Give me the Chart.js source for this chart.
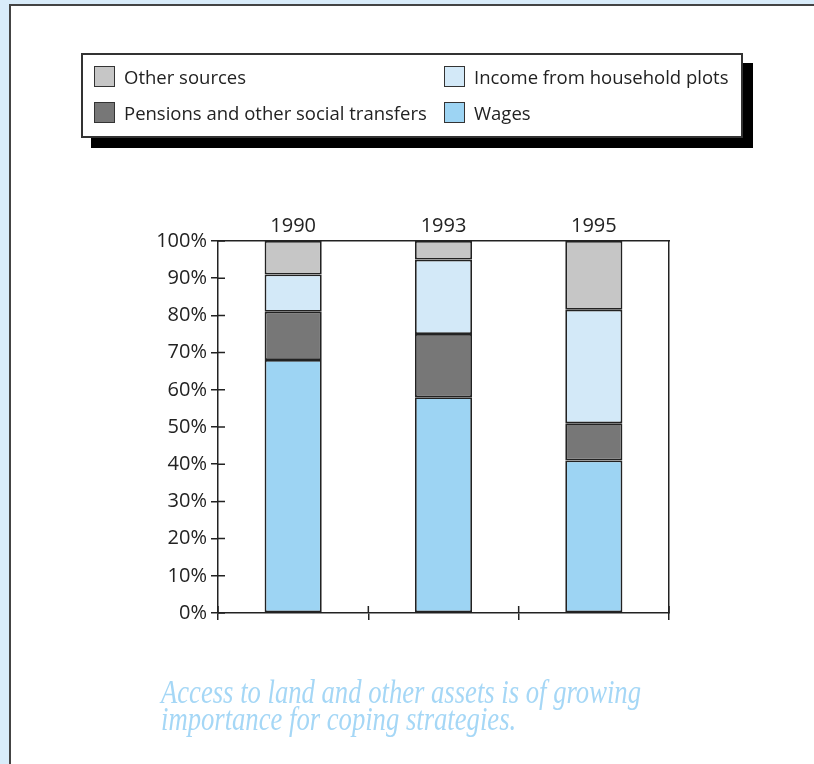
<!DOCTYPE html>
<html>
<head>
<meta charset="utf-8">
<script src="https://cdn.jsdelivr.net/npm/chart.js@4.4.1/dist/chart.umd.min.js"></script>
<style>
  html, body { margin: 0; padding: 0; }
  body { width: 814px; height: 764px; background: #d9ecfa; position: relative; overflow: hidden; font-family: 'Open Sans', sans-serif; }
  #panel { position: absolute; left: 9px; top: 4px; width: 900px; height: 900px; background: #fff; border-top: 2px solid #444; border-left: 2px solid #444; }
  #chartWrap { position: absolute; left: 0; top: 0; width: 814px; height: 764px; }
  #legend { position: absolute; left: 81px; top: 53px; width: 658px; height: 81px; background: #fff; border: 2px solid #333; box-shadow: 10px 10px 0 #000; }
  .item { position: absolute; display: flex; align-items: center; font-size: 18.5px; color: #222; white-space: nowrap; }
  .swatch { width: 19px; height: 19px; border: 1.5px solid #333; margin-right: 9px; }
  #caption { position: absolute; left: 161px; top: 679px; font-family: 'Liberation Serif', serif; font-style: italic; font-size: 33px; line-height: 27px; color: #a5d7f6; }
  #caption span { display: block; transform-origin: left center; white-space: nowrap; }
</style>
</head>
<body>
<div id="panel"></div>
<div id="chartWrap"><canvas id="incomeChart"></canvas></div>
<div id="legend"></div>
<div id="caption"><span>Access to land and other assets is of growing</span><span>importance for coping strategies.</span></div>
<script>
// data
const years = ['1990', '1993', '1995'];
const wages = [68, 58, 41];
const pensions = [13, 17, 10];
const householdPlots = [10, 20, 30.5];
const otherSources = [9, 5, 18.5];
const yTicks = [0, 10, 20, 30, 40, 50, 60, 70, 80, 90, 100];

const seriesNames = ['Wages', 'Pensions and other social transfers', 'Income from household plots', 'Other sources'];
const seriesColors = ['#9dd4f3', '#777777', '#d3e9f8', '#c6c6c6'];

// legend (two columns, same order as the original)
const legendSlots = [
  { idx: 3, left: 11, top: 9 },
  { idx: 2, left: 361, top: 9 },
  { idx: 1, left: 11, top: 45 },
  { idx: 0, left: 361, top: 45 }
];
const legendEl = document.getElementById('legend');
legendSlots.forEach(slot => {
  const item = document.createElement('div');
  item.className = 'item';
  item.style.left = slot.left + 'px';
  item.style.top = slot.top + 'px';
  item.innerHTML = `<div class="swatch" style="background:${seriesColors[slot.idx]}"></div><span>${seriesNames[slot.idx]}</span>`;
  legendEl.appendChild(item);
});

// inward halves of the crossing tick marks
const crossTicks = {
  id: 'crossTicks',
  afterDraw(chart) {
    const ctx = chart.ctx;
    const x = chart.scales.x;
    const y = chart.scales.y;
    ctx.save();
    ctx.strokeStyle = '#222';
    ctx.lineWidth = 1.5;
    ctx.beginPath();
    yTicks.forEach(v => {
      const py = y.getPixelForValue(v);
      ctx.moveTo(y.right, py);
      ctx.lineTo(y.right + 7, py);
    });
    for (let i = 0; i <= years.length; i++) {
      const px = x.getPixelForValue(i - 0.5);
      ctx.moveTo(px, x.top);
      ctx.lineTo(px, x.top - 7);
    }
    ctx.stroke();
    ctx.restore();
  }
};

const stackValues = [wages, pensions, householdPlots, otherSources];
const datasets = stackValues.map((vals, i) => ({
  label: seriesNames[i],
  data: vals,
  backgroundColor: seriesColors[i],
  borderColor: '#222',
  borderWidth: 1.8,
  borderSkipped: false,
  barPercentage: 0.38,
  categoryPercentage: 1
}));

Chart.defaults.font.family = "'Open Sans', sans-serif";
Chart.defaults.color = '#222';

new Chart(document.getElementById('incomeChart'), {
  type: 'bar',
  data: { labels: years, datasets },
  options: {
    responsive: true,
    maintainAspectRatio: false,
    animation: false,
    layout: { padding: { left: 140, right: 145, top: 201, bottom: 141 } },
    plugins: { legend: { display: false }, tooltip: { enabled: false } },
    scales: {
      x: {
        stacked: true,
        position: 'bottom',
        ticks: { display: false },
        grid: { offset: true, drawOnChartArea: false, tickLength: 7, color: '#222', lineWidth: 1.5 },
        border: { color: '#222', width: 1.5 },
        afterFit: s => { s.height = 10; }
      },
      x2: {
        type: 'category',
        labels: years,
        position: 'top',
        offset: true,
        ticks: { font: { size: 20 }, padding: -5 },
        grid: { display: false },
        border: { display: true, color: '#222', width: 1.5 },
        afterFit: s => { s.height = 40; }
      },
      y: {
        stacked: true,
        min: 0,
        max: 100,
        ticks: { stepSize: 10, padding: 4, font: { size: 20 }, callback: v => v + '%' },
        grid: { drawOnChartArea: false, tickLength: 7, color: '#222', lineWidth: 1.5 },
        border: { color: '#222', width: 1.5 },
        afterFit: s => { s.width = 78; }
      },
      y2: {
        position: 'right',
        min: 0,
        max: 100,
        display: true,
        ticks: { display: false },
        grid: { display: false },
        border: { display: true, color: '#222', width: 1.5 },
        afterFit: s => { s.width = 0; }
      }
    }
  },
  plugins: [crossTicks]
});

// squeeze the caption to the condensed width of the original
const capLines = document.querySelectorAll('#caption span');
const targetWidth = 480;
const natural = capLines[0].getBoundingClientRect().width;
const sx = targetWidth / natural;
capLines.forEach(l => { l.style.transform = `scaleX(${sx})`; });
</script>
</body>
</html>
